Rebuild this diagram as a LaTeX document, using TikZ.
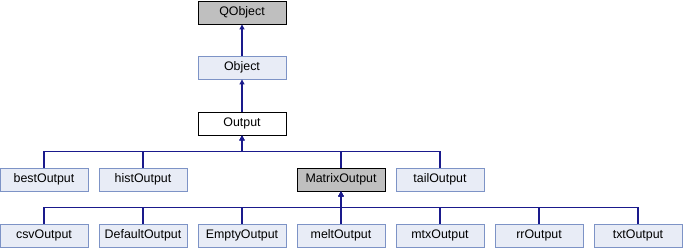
\documentclass[tikz,border=0pt]{standalone}
\usepackage{fontspec}
\setmainfont{Liberation Sans}
\usetikzlibrary{arrows.meta}
\definecolor{ClassFill}{HTML}{E8ECF6}
\definecolor{ClassLine}{HTML}{7D93C6}
\definecolor{ExtGray}{HTML}{BFBFBF}
\definecolor{EdgeBlue}{HTML}{1A1A8C}

\begin{document}
\begin{tikzpicture}[x=1pt, y=1pt,
          cls/.style={draw=ClassLine, fill=ClassFill, line width=0.9pt,
                      minimum width=88pt, minimum height=23pt, inner sep=0pt,
                      font=\fontsize{12.4}{14}\selectfont},
          extcls/.style={cls, draw=black, fill=ExtGray},
          curcls/.style={cls, draw=black, fill=white},
          inh/.style={EdgeBlue, line width=1.1pt,
                      -{Triangle[length=5pt, width=5pt]}}
        ]
        \useasboundingbox (0,0) rectangle (683,248);

        % base chain
        \node[extcls] (qobject) at (242,235.5) {QObject};
        \node[cls]    (object)  at (242,180.5) {Object};
        \node[curcls] (output)  at (242,124.5) {Output};

        % direct subclasses of Output
        \node[cls]    (best)   at (44,68.5)  {bestOutput};
        \node[cls]    (hist)   at (143,68.5) {histOutput};
        \node[extcls] (matrix) at (341,68.5) {MatrixOutput};
        \node[cls]    (tail)   at (440,68.5) {tailOutput};

        % subclasses of MatrixOutput
        \node[cls] (csv)     at (44,12.5)  {csvOutput};
        \node[cls] (default) at (143,12.5) {DefaultOutput};
        \node[cls] (empty)   at (242,12.5) {EmptyOutput};
        \node[cls] (melt)    at (341,12.5) {meltOutput};
        \node[cls] (mtx)     at (440,12.5) {mtxOutput};
        \node[cls] (rr)      at (539,12.5) {rrOutput};
        \node[cls] (txt)     at (638,12.5) {txtOutput};

        \draw[inh] (object) -- (qobject);
        \draw[inh] (output) -- (object);

        % one bus below Output, one below MatrixOutput
        \draw[inh] (best.north)   -- ++(0,16) -| (output.south);
        \draw[inh] (hist.north)   -- ++(0,16) -| (output.south);
        \draw[inh] (matrix.north) -- ++(0,16) -| (output.south);
        \draw[inh] (tail.north)   -- ++(0,16) -| (output.south);

        \draw[inh] (csv.north)     -- ++(0,16) -| (matrix.south);
        \draw[inh] (default.north) -- ++(0,16) -| (matrix.south);
        \draw[inh] (empty.north)   -- ++(0,16) -| (matrix.south);
        \draw[inh] (melt.north)    -- ++(0,16) -| (matrix.south);
        \draw[inh] (mtx.north)     -- ++(0,16) -| (matrix.south);
        \draw[inh] (rr.north)      -- ++(0,16) -| (matrix.south);
        \draw[inh] (txt.north)     -- ++(0,16) -| (matrix.south);
      \end{tikzpicture}
\end{document}
